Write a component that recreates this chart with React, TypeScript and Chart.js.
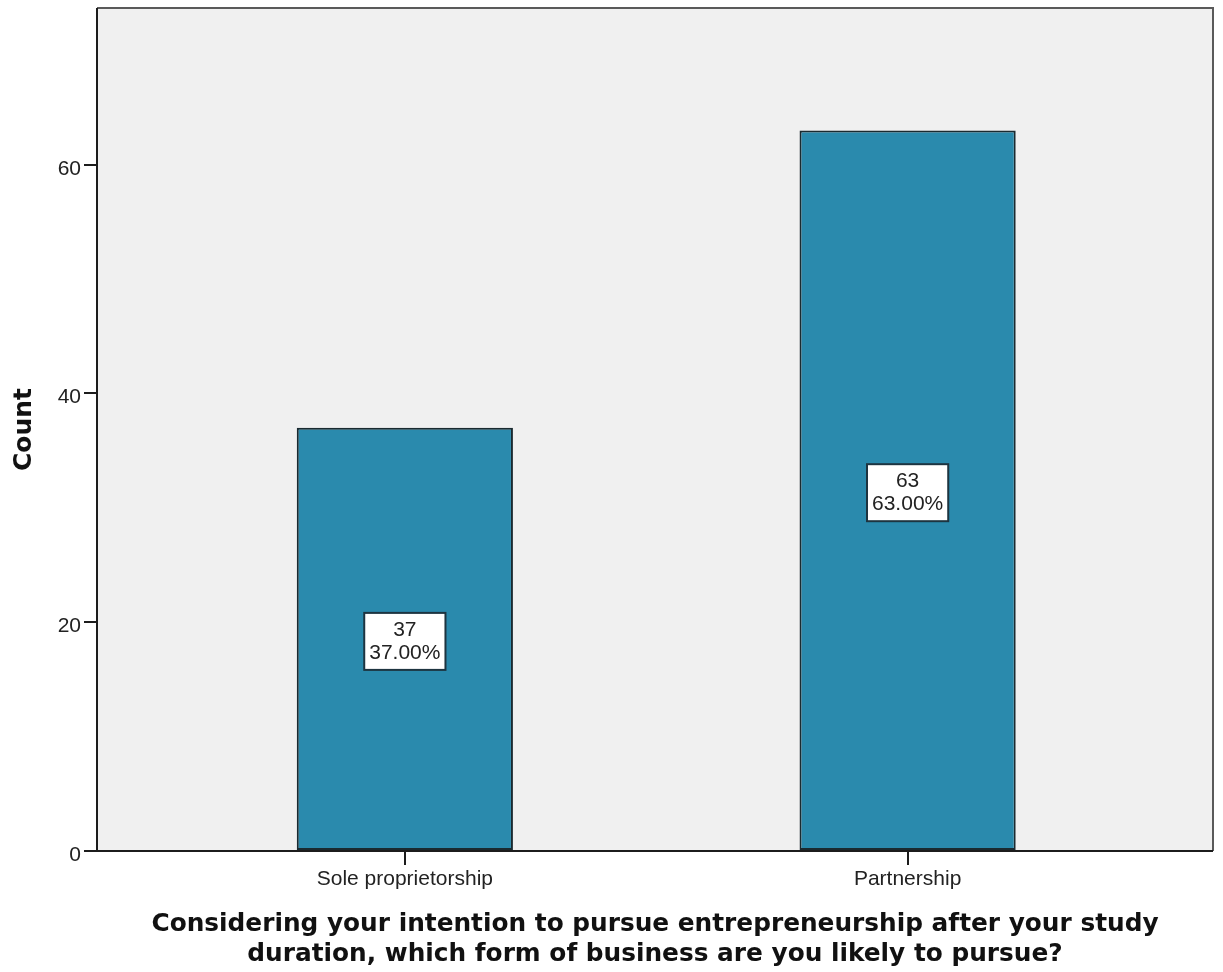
import React, { useEffect, useRef } from "react";
import { Chart, registerables } from "chart.js";

Chart.register(...registerables);

// Category labels along the x axis
const categories: string[] = ["Sole proprietorship", "Partnership"];
// Respondent counts per category
const counts: number[] = [37, 63];
// Share of respondents per category (percent)
const percents: number[] = [37.0, 63.0];
// Y axis tick values
const yTicks: number[] = [0, 20, 40, 60];

const xTitle: string[] = [
  "Considering your intention to pursue entrepreneurship after your study",
  "duration, which form of business are you likely to pursue?",
];
const yTitle = "Count";

const TICK_FONT = "'Liberation Sans', Arial, sans-serif";
const TITLE_FONT = "'DejaVu Sans', Verdana, sans-serif";

// Plot background and frame (grey top/right, dark left/bottom)
const framePlugin = {
  id: "frame",
  beforeDraw(chart: any) {
    const { ctx, chartArea: a } = chart;
    ctx.save();
    ctx.fillStyle = "#f0f0f0";
    ctx.fillRect(a.left, a.top, a.right - a.left, a.bottom - a.top);
    ctx.restore();
  },
  afterDatasetsDraw(chart: any) {
    const { ctx, chartArea: a } = chart;
    ctx.save();
    ctx.lineWidth = 2;
    ctx.strokeStyle = "#5a5a5a";
    ctx.beginPath();
    ctx.moveTo(a.left, a.top);
    ctx.lineTo(a.right, a.top);
    ctx.lineTo(a.right, a.bottom);
    ctx.stroke();
    ctx.strokeStyle = "#1c1c1c";
    ctx.beginPath();
    ctx.moveTo(a.left, a.top);
    ctx.lineTo(a.left, a.bottom);
    ctx.lineTo(a.right, a.bottom);
    ctx.stroke();
    ctx.restore();
  },
};

// Boxed count / percent labels in the middle of each bar
const valueBoxPlugin = {
  id: "valueBoxes",
  afterDatasetsDraw(chart: any) {
    const { ctx } = chart;
    const meta = chart.getDatasetMeta(0);
    const yScale = chart.scales.y;
    ctx.save();
    ctx.font = `21px ${TICK_FONT}`;
    ctx.textAlign = "center";
    ctx.textBaseline = "middle";
    meta.data.forEach((bar: any, i: number) => {
      const cx = bar.x;
      const cy = (yScale.getPixelForValue(counts[i]) + yScale.getPixelForValue(0)) / 2 + 2;
      const l1 = String(counts[i]);
      const l2 = percents[i].toFixed(2) + "%";
      const w = Math.max(ctx.measureText(l1).width, ctx.measureText(l2).width) + 10;
      const h = 57;
      ctx.fillStyle = "#ffffff";
      ctx.fillRect(cx - w / 2, cy - h / 2, w, h);
      ctx.lineWidth = 2;
      ctx.strokeStyle = "#1d3440";
      ctx.strokeRect(cx - w / 2, cy - h / 2, w, h);
      ctx.fillStyle = "#222222";
      ctx.fillText(l1, cx, cy - 11);
      ctx.fillText(l2, cx, cy + 12);
    });
    ctx.restore();
  },
};

export default function App() {
  const canvasRef = useRef<HTMLCanvasElement | null>(null);

  useEffect(() => {
    if (!canvasRef.current) return;
    const chart = new Chart(canvasRef.current, {
      type: "bar",
      data: {
        datasets: [
          {
            label: yTitle,
            data: categories.map((_, i) => ({ x: i, y: counts[i] })),
            backgroundColor: "#2a8aad",
            borderColor: "#1a2a30",
            borderWidth: 2,
            borderSkipped: false,
            barPercentage: 0.43,
            categoryPercentage: 1,
          },
        ],
      },
      options: {
        responsive: false,
        animation: false,
        layout: { padding: { top: 8, right: 10, left: 0, bottom: 0 } },
        plugins: {
          legend: { display: false },
          tooltip: { enabled: false },
        },
        scales: {
          x: {
            type: "linear",
            offset: false,
            min: -0.6123,
            max: 1.6074,
            afterBuildTicks: (scale: any) => {
              scale.ticks = categories.map((_, i) => ({ value: i }));
            },
            afterFit: (scale: any) => {
              scale.height = 121;
              scale.paddingLeft = 0;
              scale.paddingRight = 0;
            },
            border: { display: false },
            grid: {
              offset: false,
              drawOnChartArea: false,
              drawTicks: true,
              tickLength: 14,
              color: "#1c1c1c",
              lineWidth: 2,
            },
            ticks: {
              padding: 2,
              color: "#222222",
              font: { family: TICK_FONT, size: 21 },
              callback: (v: any) => categories[v] ?? "",
            },
            title: {
              display: true,
              text: xTitle,
              color: "#111111",
              font: { family: TITLE_FONT, size: 24.8, weight: "bold", lineHeight: 1.2 },
              padding: { top: 0, bottom: 3 },
            },
          },
          y: {
            min: 0,
            max: 73.7,
            afterBuildTicks: (scale: any) => {
              scale.ticks = yTicks.map((v) => ({ value: v }));
            },
            afterFit: (scale: any) => {
              scale.width = 97;
              scale.paddingTop = 0;
              scale.paddingBottom = 0;
            },
            border: { display: false },
            grid: {
              drawOnChartArea: false,
              drawTicks: true,
              tickLength: 13,
              color: "#1c1c1c",
              lineWidth: 2,
            },
            ticks: {
              padding: 3,
              labelOffset: 4,
              color: "#222222",
              font: { family: TICK_FONT, size: 21 },
            },
            title: {
              display: true,
              text: yTitle,
              color: "#111111",
              font: { family: TITLE_FONT, size: 25, weight: "bold", lineHeight: 1.2 },
              padding: { top: 9, bottom: 0 },
            },
          },
        },
      },
      plugins: [framePlugin, valueBoxPlugin],
    });
    return () => chart.destroy();
  }, []);

  return (
    <div style={{ position: "fixed", left: 0, top: 0, width: 1223, height: 972, background: "#ffffff" }}>
      <canvas ref={canvasRef} width={1223} height={972} />
    </div>
  );
}
